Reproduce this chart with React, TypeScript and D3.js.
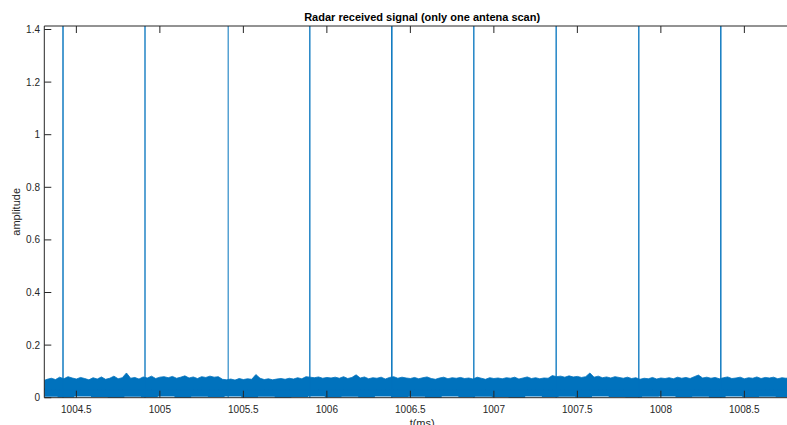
import React from "react";
import * as d3 from "d3";

// Echo pulses from a single antenna scan: pulse time (ms) and peak amplitude
const pulseTimes = [1004.42, 1004.911, 1005.409, 1005.898, 1006.389, 1006.88, 1007.373, 1007.868, 1008.359];
const pulseAmps = [1.62, 1.58, 1.55, 1.6, 1.64, 1.57, 1.61, 1.59, 1.63];
const pulseWidths = [1.4, 1.3, 1.0, 1.3, 1.5, 1.3, 1.3, 1.3, 1.4];

// Noise floor: upper envelope every 0.025 ms starting at 1004.30 ms
const noiseStart = 1004.3;
const noiseStep = 0.025;
const noiseUpper = [
  0.064, 0.07, 0.074, 0.069, 0.078, 0.072, 0.08, 0.075, 0.071, 0.077,
  0.073, 0.068, 0.076, 0.071, 0.079, 0.07, 0.074, 0.082, 0.072, 0.076,
  0.094, 0.074, 0.077, 0.071, 0.079, 0.075, 0.082, 0.073, 0.078, 0.08,
  0.076, 0.081, 0.074, 0.078, 0.083, 0.075, 0.079, 0.073, 0.08, 0.077,
  0.082, 0.078, 0.08, 0.07, 0.068, 0.071, 0.067, 0.073, 0.069, 0.072,
  0.07, 0.088, 0.074, 0.069, 0.072, 0.068, 0.071, 0.073, 0.07, 0.074,
  0.071, 0.076, 0.072, 0.08, 0.078, 0.076, 0.079, 0.074, 0.077, 0.075,
  0.078, 0.074, 0.08, 0.073, 0.077, 0.087, 0.075, 0.079, 0.072, 0.076,
  0.074, 0.078, 0.071, 0.077, 0.08, 0.074, 0.078, 0.075, 0.073, 0.077,
  0.072, 0.076, 0.079, 0.073, 0.07, 0.075, 0.078, 0.072, 0.076, 0.074,
  0.077, 0.073, 0.075, 0.071, 0.078, 0.074, 0.07, 0.076, 0.073, 0.075,
  0.072, 0.076, 0.074, 0.078, 0.071, 0.075, 0.079, 0.073, 0.076, 0.072,
  0.075, 0.074, 0.084, 0.08, 0.082, 0.078, 0.083, 0.079, 0.081, 0.077,
  0.08, 0.094, 0.078, 0.082, 0.076, 0.079, 0.075, 0.08, 0.077, 0.074,
  0.078, 0.073, 0.076, 0.07, 0.074, 0.072, 0.077, 0.071, 0.075, 0.073,
  0.076, 0.072, 0.078, 0.074, 0.077, 0.073, 0.08, 0.086, 0.075, 0.078,
  0.074, 0.077, 0.072, 0.076, 0.079, 0.073, 0.075, 0.078, 0.072, 0.076,
  0.074, 0.079, 0.073, 0.077, 0.075, 0.078, 0.072, 0.076, 0.074, 0.077,
];
// Lower envelope every 0.1 ms
const noiseLowerStep = 0.1;
const noiseLower = [
  0.004, 0.001, 0.005, 0.003, 0.0, 0.004, 0.002, 0.005, 0.0, 0.004,
  0.003, 0.005, 0.001, 0.004, 0.0, 0.003, 0.005, 0.002, 0.004, 0.001,
  0.005, 0.003, 0.004, 0.0, 0.005, 0.002, 0.004, 0.003, 0.0, 0.005,
  0.003, 0.004, 0.001, 0.005, 0.003, 0.001, 0.004, 0.005, 0.002, 0.004,
  0.0, 0.005, 0.003, 0.004, 0.002, 0.005,
];

const xTicks = [1004.5, 1005, 1005.5, 1006, 1006.5, 1007, 1007.5, 1008, 1008.5];
const yTicks = [0, 0.2, 0.4, 0.6, 0.8, 1, 1.2, 1.4];

const W = 787;
const H = 425;
const left = 44.3;
const right = 800;
const top = 26;
const bottom = 397.7;
const lineColor = "#0072BD";
const axisColor = "#262626";
const font = "'Liberation Sans', Arial, Helvetica, sans-serif";

export default function App() {
  const x = d3.scaleLinear().domain([1004.308, 1004.308 + (right - left) / 167]).range([left, right]);
  const y = d3.scaleLinear().domain([0, 1.4]).range([bottom, 29.5]);

  const idx = d3.range(noiseUpper.length);
  const lowerAt = (i: number) =>
    noiseLower[Math.min(noiseLower.length - 1, Math.floor((i * noiseStep) / noiseLowerStep + 1e-9))];

  const upperArea = d3
    .area<number>()
    .x((i) => x(noiseStart + i * noiseStep))
    .y0(() => y(0.03))
    .y1((i) => y(noiseUpper[i]))
    .curve(d3.curveLinear);

  const lowerArea = d3
    .area<number>()
    .x((i) => x(noiseStart + i * noiseStep))
    .y0((i) => y(lowerAt(i)))
    .y1(() => y(0.035))
    .curve(d3.curveStep);

  const tick = 7;

  return (
    <svg width={W} height={H} style={{ position: "absolute", left: 0, top: 0, background: "#fff" }}>
      <defs>
        <clipPath id="plotClip">
          <rect x={left} y={top} width={right - left} height={bottom - top} />
        </clipPath>
      </defs>
      <rect x={0} y={0} width={W} height={H} fill="#fff" />
      <g clipPath="url(#plotClip)">
        <path d={lowerArea(idx) || ""} fill={lineColor} />
        <path d={upperArea(idx) || ""} fill={lineColor} stroke={lineColor} strokeWidth={0.8} />
        {pulseTimes.map((t, i) => (
          <line
            key={i}
            x1={x(t)}
            x2={x(t)}
            y1={y(0.0)}
            y2={y(pulseAmps[i])}
            stroke={lineColor}
            strokeWidth={pulseWidths[i]}
          />
        ))}
      </g>
      {/* axes box */}
      <line x1={left} x2={right} y1={top} y2={top} stroke={axisColor} strokeWidth={1} />
      <line x1={left} x2={right} y1={bottom} y2={bottom} stroke={axisColor} strokeWidth={1} />
      <line x1={left} x2={left} y1={top} y2={bottom} stroke={axisColor} strokeWidth={1} />
      {xTicks.map((t) => (
        <g key={t}>
          <line x1={x(t)} x2={x(t)} y1={top} y2={top + tick} stroke={axisColor} />
          <line x1={x(t)} x2={x(t)} y1={bottom} y2={bottom - tick} stroke={axisColor} />
          <text x={x(t)} y={413} textAnchor="middle" fontFamily={font} fontSize={10} fill={axisColor}>
            {t}
          </text>
        </g>
      ))}
      {yTicks.map((v) => (
        <g key={v}>
          <line x1={left} x2={left + tick} y1={y(v)} y2={y(v)} stroke={axisColor} />
          <text x={40} y={y(v) + 3.5} textAnchor="end" fontFamily={font} fontSize={10} fill={axisColor}>
            {v}
          </text>
        </g>
      ))}
      <text x={(left + right) / 2} y={21} textAnchor="middle" fontFamily={font} fontSize={11} fontWeight="bold" fill="#000">
        Radar received signal (only one antena scan)
      </text>
      <text x={(left + right) / 2} y={427} textAnchor="middle" fontFamily={font} fontSize={11} fill={axisColor}>
        t(ms)
      </text>
      <text
        transform={`translate(20, ${(top + bottom) / 2}) rotate(-90)`}
        textAnchor="middle"
        fontFamily={font}
        fontSize={11}
        fill={axisColor}
      >
        amplitude
      </text>
    </svg>
  );
}
